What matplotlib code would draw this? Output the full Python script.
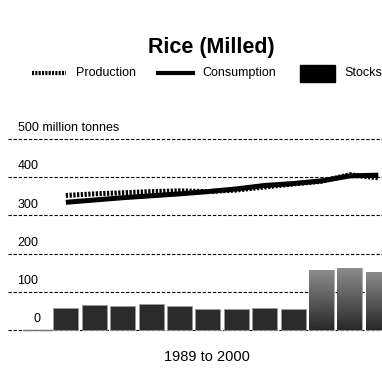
import matplotlib.pyplot as plt
import numpy as np

years = [1989, 1990, 1991, 1992, 1993, 1994, 1995, 1996, 1997, 1998, 1999, 2000]
production = [352, 356, 359, 362, 364, 362, 366, 374, 382, 389, 406, 398]
consumption = [334, 340, 346, 351, 356, 362, 369, 378, 383, 390, 403, 405]
stocks = [58, 65, 63, 68, 62, 56, 55, 58, 56, 156, 161, 153]
gridvals = [0, 100, 200, 300, 400, 500]
gridlabels = ['0', '100', '200', '300', '400', '500 million tonnes']

plt.rcParams['font.family'] = ['Liberation Sans', 'DejaVu Sans']

fig = plt.figure(figsize=(3.82, 3.72), dpi=100)
ax = fig.add_axes([8/382, 1 - 335/372, 374/382, 200/372])

x = np.arange(1, len(years) + 1)
ax.set_xlim(-1.035, 12.13)
ax.set_ylim(-13, 510)
ax.axis('off')

# dashed guide lines with labels sitting above them
for v, lab in zip(gridvals, gridlabels):
    ax.axhline(v, color='black', lw=0.8, ls=(0, (3, 1.6)), zorder=1)
    if v == 0:
        ax.text(0, v + 12, lab, ha='center', va='bottom', fontsize=9,
                zorder=3,
                bbox=dict(facecolor='white', edgecolor='none', pad=1.5))
    else:
        ax.text(-0.7, v + 12, lab, ha='left', va='bottom', fontsize=9,
                zorder=3)
ax.plot([-0.5, 0.5], [0, 0], color='#777777', lw=1, zorder=2)

# stocks bars, last three shaded light to dark
bars = ax.bar(x, stocks, width=0.88, color='#2b2b2b', edgecolor='#9a9a9a',
              linewidth=0.6, zorder=2)
grad = np.linspace(0.55, 0.16, 100).reshape(-1, 1)
for b in bars[-3:]:
    b.set_facecolor('none')
    x0, w, h = b.get_x(), b.get_width(), b.get_height()
    im = ax.imshow(grad, cmap='gray', vmin=0, vmax=1, aspect='auto',
                   extent=[x0, x0 + w, 0, h], origin='upper', zorder=2)
    im.set_clip_path(b)

ax.plot(x, consumption, color='black', lw=3.6, solid_capstyle='butt', zorder=4)
ax.plot(x, production, color='black', lw=3.6, ls=(0, (0.45, 0.3)), zorder=5)

fig.text(211/382, 1 - 47/372, 'Rice (Milled)', ha='center', va='center',
         fontsize=15.5, fontweight='bold')

# legend row
ly = 1 - 73/372
fig.add_artist(plt.Line2D([32/382, 66/382], [ly, ly], color='black', lw=3,
                          ls=(0, (0.5, 0.3))))
fig.text(76/382, ly, 'Production', va='center', fontsize=9)
fig.add_artist(plt.Line2D([158/382, 193/382], [ly, ly], color='black', lw=3))
fig.text(202/382, ly, 'Consumption', va='center', fontsize=9)
fig.add_artist(plt.Rectangle((300/382, 1 - 82/372), 35/382, 17/372,
                             color='black'))
fig.text(344/382, ly, 'Stocks', va='center', fontsize=9)

fig.text(207/382, 1 - 357/372, '1989 to 2000', ha='center', va='center',
         fontsize=10.5)

fig.savefig('out.png', dpi=100)
